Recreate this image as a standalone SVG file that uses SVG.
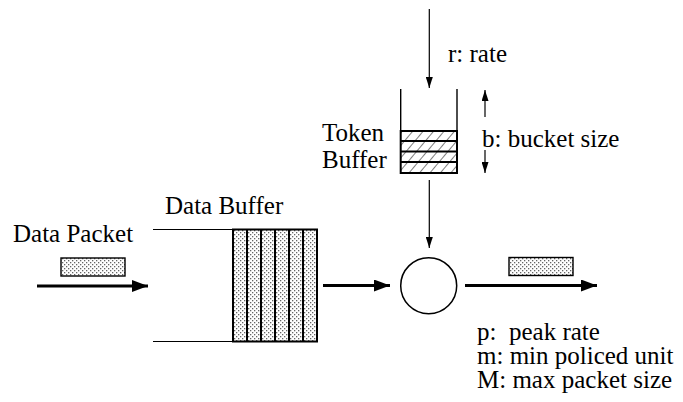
<svg xmlns="http://www.w3.org/2000/svg" width="683" height="402" viewBox="0 0 683 402">
  <style>
    text { font-family: "Liberation Serif", "Times New Roman", serif; font-size: 25px; fill: #000; white-space: pre; }
    .thin { stroke: #000; stroke-width: 1.2; fill: none; }
    .wall { stroke: #000; stroke-width: 1.4; fill: none; }
    .bold { stroke: #000; stroke-width: 3.2; fill: none; }
    .box { stroke: #000; stroke-width: 2; }
  </style>
  <defs>
    <pattern id="dots" width="4" height="4" patternUnits="userSpaceOnUse">
      <rect width="4" height="4" fill="#fff"/>
      <rect x="0" y="0" width="1.3" height="1.3" fill="#666"/>
      <rect x="2" y="2" width="1.3" height="1.3" fill="#666"/>
    </pattern>
    <pattern id="hatch" width="8" height="8" patternUnits="userSpaceOnUse" patternTransform="rotate(40)">
      <rect width="8" height="8" fill="#fff"/>
      <line x1="0" y1="0" x2="0" y2="8" stroke="#000" stroke-width="1"/>
    </pattern>
    <!-- heads point along +x; orient="auto" turns them with the line -->
    <marker id="bigHead" markerWidth="16" markerHeight="12" refX="16" refY="6" orient="auto" markerUnits="userSpaceOnUse">
      <path d="M0,0 L16,6 L0,12 Z" fill="#000"/>
    </marker>
    <marker id="smallHead" markerWidth="11" markerHeight="7" refX="11" refY="3.5" orient="auto" markerUnits="userSpaceOnUse">
      <path d="M0,0 L11,3.5 L0,7 Z" fill="#000"/>
    </marker>
  </defs>

  <!-- token bucket -->
  <g id="token-buffer">
    <line class="wall" x1="400.7" y1="89" x2="400.7" y2="131"/>
    <line class="wall" x1="457" y1="89" x2="457" y2="131"/>
    <rect x="400.7" y="131" width="56.3" height="42" fill="url(#hatch)" class="box"/>
    <line class="box" x1="400.7" y1="141" x2="457" y2="141"/>
    <line class="box" x1="400.7" y1="151.5" x2="457" y2="151.5"/>
    <line class="box" x1="400.7" y1="162" x2="457" y2="162"/>
    <text x="322" y="141">Token</text>
    <text x="322" y="168">Buffer</text>
  </g>

  <!-- data buffer queue -->
  <g id="data-buffer">
    <line class="thin" x1="153" y1="229.5" x2="233" y2="229.5"/>
    <line class="thin" x1="153" y1="341.5" x2="233" y2="341.5"/>
    <rect x="233" y="229.5" width="84" height="112" fill="url(#dots)" class="box"/>
    <line class="box" x1="247" y1="229.5" x2="247" y2="341.5"/>
    <line class="box" x1="261" y1="229.5" x2="261" y2="341.5"/>
    <line class="box" x1="275" y1="229.5" x2="275" y2="341.5"/>
    <line class="box" x1="289" y1="229.5" x2="289" y2="341.5"/>
    <line class="box" x1="303" y1="229.5" x2="303" y2="341.5"/>
    <text x="165" y="214">Data Buffer</text>
  </g>

  <!-- incoming packet -->
  <g id="data-packet">
    <rect x="61" y="258" width="64" height="18" fill="url(#dots)" stroke="#000" stroke-width="1.4"/>
    <text x="13" y="242">Data Packet</text>
  </g>

  <!-- policer -->
  <g id="policer">
    <circle cx="428.7" cy="285.7" r="28" fill="#fff" stroke="#000" stroke-width="1.5"/>
  </g>

  <!-- outgoing packet -->
  <g id="out-packet">
    <rect x="509" y="257.5" width="64" height="18" fill="url(#dots)" stroke="#000" stroke-width="1.4"/>
  </g>

  <!-- parameter labels -->
  <g id="labels">
    <text x="448" y="62">r: rate</text>
    <text x="482" y="147">b: bucket size</text>
    <text x="477" y="340">p:  peak rate</text>
    <text x="477" y="364">m: min policed unit</text>
    <text x="477" y="388">M: max packet size</text>
  </g>

  <!-- connectors -->
  <g id="connectors">
    <line class="bold" x1="37" y1="286" x2="148" y2="286" marker-end="url(#bigHead)"/>
    <line class="bold" x1="323" y1="285.5" x2="390" y2="285.5" marker-end="url(#bigHead)"/>
    <line class="bold" x1="465" y1="285.5" x2="597" y2="285.5" marker-end="url(#bigHead)"/>
    <line class="thin" x1="429.3" y1="9" x2="429.3" y2="88" marker-end="url(#smallHead)"/>
    <line class="thin" x1="429.3" y1="180" x2="429.3" y2="248" marker-end="url(#smallHead)"/>
    <line class="thin" x1="485" y1="117" x2="485" y2="90" marker-end="url(#smallHead)"/>
    <line class="thin" x1="485" y1="150" x2="485" y2="173" marker-end="url(#smallHead)"/>
  </g>
</svg>
